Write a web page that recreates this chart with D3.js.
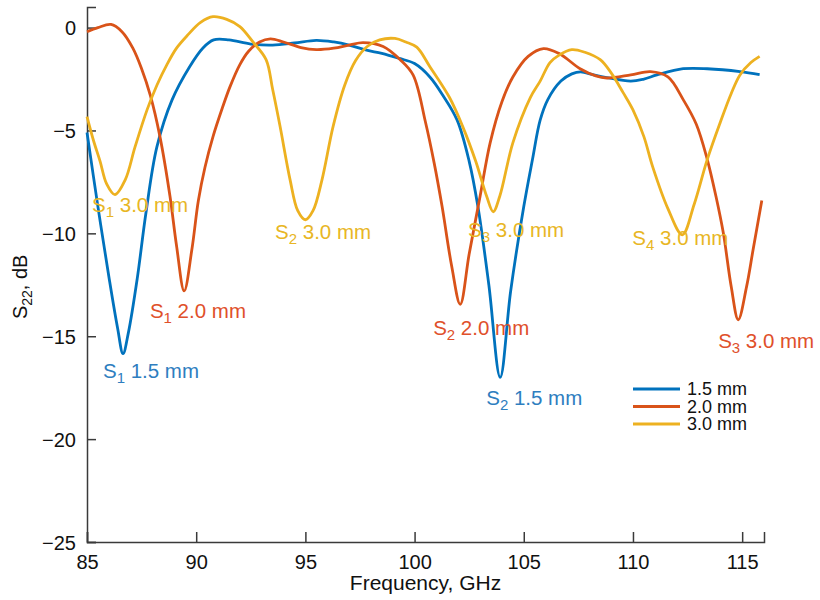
<!DOCTYPE html>
<html lang="en">
<head>
  <meta charset="UTF-8" />
  <title>S22 vs frequency</title>
  <style>
    body { margin:0; background:#fff; }
    svg { display:block; font-family:"Liberation Sans", Arial, sans-serif; }
  </style>
</head>
<body>
  <svg id="chart" width="820" height="600"></svg>
  <script src="https://d3js.org/d3.v7.min.js"></script>
  <script>
  // — data: [frequency GHz, S22 dB] —
  const s15 = [[85.0,-5.1],[85.5,-8.7],[86.0,-12.1],[86.4,-14.6],[86.65,-15.85],[86.9,-14.8],[87.3,-12.2],
    [87.7,-9.0],[88.2,-5.8],[88.9,-3.5],[89.7,-1.9],[90.3,-1.0],[90.8,-0.6],[91.5,-0.6],[92.5,-0.8],
    [93.5,-0.85],[94.5,-0.75],[95.5,-0.62],[96.3,-0.7],[97.0,-0.85],[97.8,-1.1],[98.5,-1.25],[99.3,-1.5],
    [100.0,-1.75],[100.7,-2.4],[101.3,-3.3],[101.95,-4.5],[102.5,-6.5],[102.9,-8.7],[103.4,-12.5],
    [103.92,-17.0],[104.4,-12.8],[105.0,-8.7],[105.4,-6.4],[105.75,-4.5],[106.1,-3.5],[106.7,-2.6],
    [107.2,-2.25],[107.6,-2.15],[108.2,-2.3],[108.8,-2.43],[109.9,-2.6],[110.5,-2.5],[111.1,-2.3],
    [112.3,-2.0],[113.4,-2.0],[114.9,-2.14],[115.8,-2.29]];
  const s20 = [[85.0,-0.2],[85.5,0.0],[86.1,0.15],[86.6,-0.2],[87.1,-1.0],[87.5,-2.0],[87.9,-3.3],
    [88.34,-5.3],[88.8,-8.2],[89.1,-10.6],[89.45,-12.8],[89.8,-10.8],[90.1,-8.4],[90.4,-6.8],[90.77,-5.3],
    [91.2,-3.9],[91.55,-2.87],[92.0,-1.8],[92.4,-1.15],[92.9,-0.7],[93.4,-0.55],[94.0,-0.7],[94.8,-0.97],
    [95.5,-1.07],[96.3,-1.0],[97.0,-0.85],[97.64,-0.73],[98.56,-0.92],[99.34,-1.56],[99.93,-2.3],
    [100.5,-4.6],[100.9,-6.6],[101.26,-8.7],[101.7,-11.6],[102.09,-13.45],[102.5,-11.0],[103.0,-8.2],
    [103.46,-5.6],[104.0,-3.6],[104.5,-2.4],[105.2,-1.4],[105.9,-1.02],[106.6,-1.25],[107.58,-2.0],
    [108.3,-2.35],[108.8,-2.45],[109.9,-2.3],[110.8,-2.14],[111.6,-2.4],[112.3,-3.5],[112.9,-4.7],
    [113.4,-6.4],[113.8,-8.2],[114.14,-10.0],[114.5,-12.6],[114.82,-14.2],[115.2,-12.6],[115.5,-10.8],
    [115.9,-8.4]];
  const s30 = [[85.0,-4.33],[85.3,-5.5],[85.6,-6.5],[85.9,-7.6],[86.28,-8.12],[86.75,-7.4],[87.2,-5.8],
    [87.75,-4.0],[88.2,-2.8],[88.66,-1.8],[89.1,-1.0],[89.58,-0.4],[90.2,0.25],[90.77,0.53],[91.4,0.4],
    [92.0,0.05],[92.6,-0.7],[93.2,-1.56],[93.5,-3.0],[93.84,-4.8],[94.3,-7.4],[94.65,-8.9],[95.0,-9.34],
    [95.35,-8.9],[95.76,-7.4],[96.27,-4.8],[96.8,-2.8],[97.3,-1.6],[97.83,-0.92],[98.4,-0.6],[99.1,-0.53],
    [99.6,-0.7],[100.1,-0.95],[100.7,-1.9],[101.6,-3.4],[102.2,-4.8],[102.8,-6.5],[103.3,-8.2],
    [103.6,-8.95],[103.9,-8.2],[104.5,-5.6],[105.3,-3.4],[105.75,-2.6],[106.2,-1.7],[106.6,-1.35],
    [107.2,-1.07],[107.8,-1.2],[108.5,-1.56],[109.0,-2.2],[109.55,-3.16],[110.0,-4.0],[110.5,-5.3],
    [110.9,-6.76],[111.6,-8.8],[112.26,-10.07],[112.8,-8.6],[113.4,-6.42],[114.0,-4.6],[114.5,-3.2],
    [114.9,-2.3],[115.4,-1.7],[115.8,-1.4]];

  const seriesNames  = ["1.5 mm", "2.0 mm", "3.0 mm"];
  const seriesData   = [s15, s20, s30];
  const seriesColors = ["#0072BD", "#D95319", "#EDB120"];
  const labelColors  = ["#2E7EBF", "#E0502A", "#E8B624"];

  const xTicks = [85, 90, 95, 100, 105, 110, 115];
  const yTicks = [0, -5, -10, -15, -20, -25];

  // resonance annotations: [series index, sub, text, freq, dB of text baseline-left]
  const notes = [
    [2, "1", "3.0 mm", 85.23, -8.95],
    [2, "2", "3.0 mm", 93.61, -10.26],
    [1, "1", "2.0 mm", 87.88, -14.1],
    [0, "1", "1.5 mm", 85.73, -17.02],
    [1, "2", "2.0 mm", 100.85, -14.93],
    [2, "3", "3.0 mm", 102.45, -10.17],
    [0, "2", "1.5 mm", 103.28, -18.34],
    [2, "4", "3.0 mm", 109.97, -10.56],
    [1, "3", "3.0 mm", 113.9, -15.56]
  ];

  const svg = d3.select("#chart");
  const x = d3.scaleLinear().domain([85, 116]).range([87, 764]);
  const y = d3.scaleLinear().domain([-25, 1]).range([542, 7]);

  // axes (ticks point inward, no box)
  const axisCol = "#3a3a3a";
  const gx = svg.append("g").attr("transform", `translate(0,${y(-25)})`)
    .call(d3.axisTop(x).tickValues(xTicks).tickSize(10).tickFormat(d3.format("d")));
  const gy = svg.append("g").attr("transform", `translate(${x(85)},0)`)
    .call(d3.axisRight(y).tickValues(yTicks).tickSize(9).tickFormat(d => d < 0 ? "\u2212" + (-d) : d));
  [gx, gy].forEach(g => {
    g.select(".domain").attr("stroke", axisCol).attr("stroke-width", 1.5);
    g.selectAll(".tick line").attr("stroke", axisCol).attr("stroke-width", 1.5);
    g.selectAll(".tick text").attr("fill", "#111").style("font-size", "20px");
  });
  gx.selectAll(".tick text").attr("y", 0).attr("dy", "1.35em");
  gy.selectAll(".tick text").attr("x", -11).attr("dy", "0.35em").attr("text-anchor", "end");

  // axis labels
  svg.append("text").attr("x", (x(85) + x(116)) / 2).attr("y", 590)
    .attr("text-anchor", "middle").style("font-size", "21px").attr("fill", "#111")
    .text("Frequency, GHz");
  const yl = svg.append("text").attr("transform", `translate(27,${y(-12.6)}) rotate(-90)`)
    .attr("text-anchor", "middle").style("font-size", "20px").attr("fill", "#111");
  yl.append("tspan").text("S");
  yl.append("tspan").attr("dy", 5).style("font-size", "14px").text("22");
  yl.append("tspan").attr("dy", -5).text(", dB");

  // curves
  const line = d3.line().x(d => x(d[0])).y(d => y(d[1])).curve(d3.curveCatmullRom.alpha(0.5));
  seriesData.forEach((s, i) => {
    svg.append("path").datum(s).attr("d", line)
      .attr("fill", "none").attr("stroke", seriesColors[i]).attr("stroke-width", 2.8)
      .attr("stroke-linejoin", "round");
  });

  // annotations
  notes.forEach(([si, sub, txt, f, v]) => {
    const t = svg.append("text").attr("x", x(f)).attr("y", y(v))
      .style("font-size", "20.5px").attr("fill", labelColors[si]);
    t.append("tspan").text("S");
    t.append("tspan").attr("dy", 5).style("font-size", "15px").text(sub);
    t.append("tspan").attr("dy", -5).text(" " + txt);
  });

  // legend
  const lg = svg.append("g").attr("transform", "translate(633,389)");
  seriesNames.forEach((n, i) => {
    const r = lg.append("g").attr("transform", `translate(0,${i * 17.5})`);
    r.append("line").attr("x1", 0).attr("x2", 47).attr("stroke", seriesColors[i]).attr("stroke-width", 2.8);
    r.append("text").attr("x", 54).attr("dy", "0.36em").style("font-size", "18px").attr("fill", "#111").text(n);
  });
  </script>
</body>
</html>
